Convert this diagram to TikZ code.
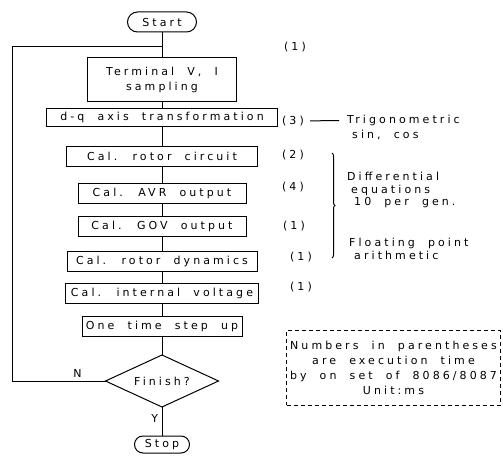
\documentclass[tikz,border=0pt]{standalone}
\usepackage{fontspec}
\setmainfont[LetterSpace=28,WordSpace=2]{DejaVu Sans}
\usetikzlibrary{shapes,positioning,decorations.pathreplacing}

\begin{document}
\begin{tikzpicture}[x=1pt,y=-1pt,node distance=12pt,
    font=\fontsize{11pt}{15pt}\selectfont]
  \tikzset{
    term/.style={draw, rounded corners=8.5pt, minimum height=17pt, inner sep=2pt, outer sep=0pt},
    proc/.style={draw, minimum height=20pt, inner sep=2pt, outer sep=0pt},
    decision/.style={draw, diamond, aspect=2.2, minimum width=113pt, minimum height=52pt, inner sep=0pt, outer sep=0pt},
    time/.style={draw=none, inner sep=1pt},
    note/.style={draw=none, inner sep=1pt, align=left, font=\fontsize{11pt}{12.5pt}\selectfont},
    line/.style={line width=1pt},
  }
  \useasboundingbox (0,0) rectangle (503,460);

  \node[term, line, minimum width=69pt, minimum height=20pt, rounded corners=10pt] (start) at (162,22) {Start};
  \node[proc, line, minimum width=149pt, minimum height=43pt, align=center, below=26pt of start] (term) {Terminal V, I\\sampling};
  \node[proc, line, minimum width=231pt, minimum height=18pt, below=7pt of term] (dq) {d-q axis transformation};
  \node[proc, line, minimum width=191pt, below=20pt of dq] (rot) {Cal. rotor circuit};
  \node[proc, line, minimum width=168pt, below=17pt of rot] (avr) {Cal. AVR output};
  \node[proc, line, minimum width=168pt, below=13pt of avr] (gov) {Cal. GOV output};
  \node[proc, line, minimum width=190pt, below=15pt of gov] (dyn) {Cal. rotor dynamics};
  \node[proc, line, minimum width=193pt, below=12pt of dyn] (volt) {Cal. internal voltage};
  \node[proc, line, minimum width=160pt, below=13pt of volt] (step) {One time step up};
  \node[decision, line, below=19pt of step] (dec) {Finish?};
  \node[term, line, minimum width=55pt, below=29pt of dec] (stop) {Stop};
  \coordinate[below=15pt of start] (join);

  \draw[line] (start) -- (term) -- (dq) -- (rot) -- (avr) -- (gov) -- (dyn) -- (volt) -- (step) -- (dec);
  \draw[line] (dec) -- node[left, pos=0.38] {Y} (stop);
  \draw[line] (dec.west) -- node[above, pos=0.3] {N} ++(-93,0) |- (join);

  \node[time] (t1) at (295,47) {(1)};
  \node[time] (t3) at (293,121) {(3)};
  \node[time] (t2) at (293,155) {(2)};
  \node[time] (t4) at (293,187) {(4)};
  \node[time] (t5) at (294,226) {(1)};
  \node[time] (t6) at (301,257) {(1)};
  \node[time] (t7) at (301,287) {(1)};

  \node[note, anchor=west] (trig) at (346,120) {Trigonometric};
  \node[note, anchor=west] (sincos) at (351,135) {sin, cos};
  \draw[line, shorten <=5pt, shorten >=7pt] (t3) -- (trig);

  \draw[line, decorate, decoration={brace, amplitude=3pt}] (332,153) -- (332,258);
  \node[note, anchor=west] (diffeq) at (346,190) {Differential\\\hspace*{4pt}equations\\\hspace*{7pt}10 per gen.};
  \node[note, anchor=west] (float) at (348,249) {Floating point\\\hspace*{5pt}arithmetic};

  \node[draw, line, dash pattern=on 4pt off 3pt, minimum width=213pt, minimum height=75pt, align=center] (legend) at (393.5,367.5)
    {Numbers in parentheses\\are execution time\\by on set of 8086/8087\\Unit:ms};
\end{tikzpicture}
\end{document}
